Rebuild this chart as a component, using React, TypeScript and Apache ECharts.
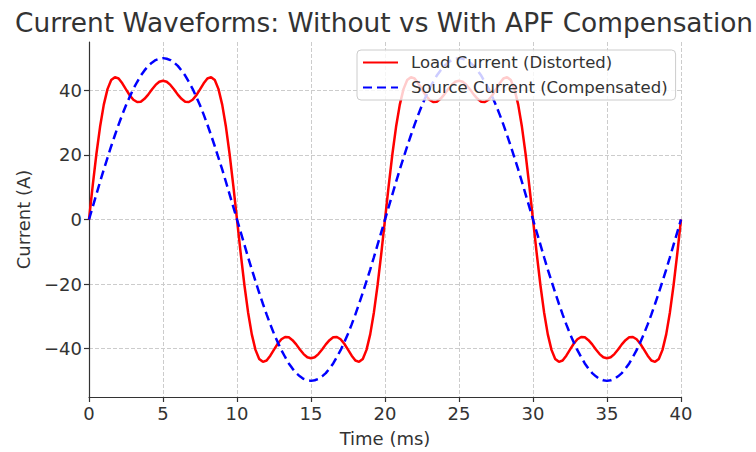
import React, { useEffect, useRef } from "react";
import * as echarts from "echarts";

const titleText = "Current Waveforms: Without vs With APF Compensation";
const xAxisName = "Time (ms)";
const yAxisName = "Current (A)";
const seriesNames = ["Load Current (Distorted)", "Source Current (Compensated)"];
const yTickValues = [-40, -20, 0, 20, 40];

const timeMs = [
  0, 0.25, 0.5, 0.75, 1, 1.25, 1.5, 1.75, 2, 2.25, 2.5, 2.75, 3, 3.25, 3.5, 3.75, 4, 4.25, 4.5, 4.75,
  5, 5.25, 5.5, 5.75, 6, 6.25, 6.5, 6.75, 7, 7.25, 7.5, 7.75, 8, 8.25, 8.5, 8.75, 9, 9.25, 9.5, 9.75,
  10, 10.25, 10.5, 10.75, 11, 11.25, 11.5, 11.75, 12, 12.25, 12.5, 12.75, 13, 13.25, 13.5, 13.75, 14, 14.25, 14.5, 14.75,
  15, 15.25, 15.5, 15.75, 16, 16.25, 16.5, 16.75, 17, 17.25, 17.5, 17.75, 18, 18.25, 18.5, 18.75, 19, 19.25, 19.5, 19.75,
  20, 20.25, 20.5, 20.75, 21, 21.25, 21.5, 21.75, 22, 22.25, 22.5, 22.75, 23, 23.25, 23.5, 23.75, 24, 24.25, 24.5, 24.75,
  25, 25.25, 25.5, 25.75, 26, 26.25, 26.5, 26.75, 27, 27.25, 27.5, 27.75, 28, 28.25, 28.5, 28.75, 29, 29.25, 29.5, 29.75,
  30, 30.25, 30.5, 30.75, 31, 31.25, 31.5, 31.75, 32, 32.25, 32.5, 32.75, 33, 33.25, 33.5, 33.75, 34, 34.25, 34.5, 34.75,
  35, 35.25, 35.5, 35.75, 36, 36.25, 36.5, 36.75, 37, 37.25, 37.5, 37.75, 38, 38.25, 38.5, 38.75, 39, 39.25, 39.5, 39.75,
  40,
];

const loadCurrent = [
  0, 10.5, 20.3, 28.8, 35.6, 40.4, 43.2, 44.1, 43.7, 42.2,
  40.3, 38.5, 37.1, 36.4, 36.5, 37.4, 38.7, 40.3, 41.7, 42.7,
  43.0, 42.7, 41.7, 40.3, 38.7, 37.4, 36.5, 36.4, 37.1, 38.5,
  40.3, 42.2, 43.7, 44.1, 43.2, 40.4, 35.6, 28.8, 20.3, 10.5,
  0, -10.5, -20.3, -28.8, -35.6, -40.4, -43.2, -44.1, -43.7, -42.2,
  -40.3, -38.5, -37.1, -36.4, -36.5, -37.4, -38.7, -40.3, -41.7, -42.7,
  -43.0, -42.7, -41.7, -40.3, -38.7, -37.4, -36.5, -36.4, -37.1, -38.5,
  -40.3, -42.2, -43.7, -44.1, -43.2, -40.4, -35.6, -28.8, -20.3, -10.5,
  0, 10.5, 20.3, 28.8, 35.6, 40.4, 43.2, 44.1, 43.7, 42.2,
  40.3, 38.5, 37.1, 36.4, 36.5, 37.4, 38.7, 40.3, 41.7, 42.7,
  43.0, 42.7, 41.7, 40.3, 38.7, 37.4, 36.5, 36.4, 37.1, 38.5,
  40.3, 42.2, 43.7, 44.1, 43.2, 40.4, 35.6, 28.8, 20.3, 10.5,
  0, -10.5, -20.3, -28.8, -35.6, -40.4, -43.2, -44.1, -43.7, -42.2,
  -40.3, -38.5, -37.1, -36.4, -36.5, -37.4, -38.7, -40.3, -41.7, -42.7,
  -43.0, -42.7, -41.7, -40.3, -38.7, -37.4, -36.5, -36.4, -37.1, -38.5,
  -40.3, -42.2, -43.7, -44.1, -43.2, -40.4, -35.6, -28.8, -20.3, -10.5,
  0,
];

const sourceCurrent = [
  0, 3.9, 7.8, 11.7, 15.5, 19.1, 22.7, 26.1, 29.4, 32.5,
  35.4, 38.0, 40.5, 42.6, 44.6, 46.2, 47.6, 48.6, 49.4, 49.8,
  50.0, 49.8, 49.4, 48.6, 47.6, 46.2, 44.6, 42.6, 40.5, 38.0,
  35.4, 32.5, 29.4, 26.1, 22.7, 19.1, 15.5, 11.7, 7.8, 3.9,
  0, -3.9, -7.8, -11.7, -15.5, -19.1, -22.7, -26.1, -29.4, -32.5,
  -35.4, -38.0, -40.5, -42.6, -44.6, -46.2, -47.6, -48.6, -49.4, -49.8,
  -50.0, -49.8, -49.4, -48.6, -47.6, -46.2, -44.6, -42.6, -40.5, -38.0,
  -35.4, -32.5, -29.4, -26.1, -22.7, -19.1, -15.5, -11.7, -7.8, -3.9,
  0, 3.9, 7.8, 11.7, 15.5, 19.1, 22.7, 26.1, 29.4, 32.5,
  35.4, 38.0, 40.5, 42.6, 44.6, 46.2, 47.6, 48.6, 49.4, 49.8,
  50.0, 49.8, 49.4, 48.6, 47.6, 46.2, 44.6, 42.6, 40.5, 38.0,
  35.4, 32.5, 29.4, 26.1, 22.7, 19.1, 15.5, 11.7, 7.8, 3.9,
  0, -3.9, -7.8, -11.7, -15.5, -19.1, -22.7, -26.1, -29.4, -32.5,
  -35.4, -38.0, -40.5, -42.6, -44.6, -46.2, -47.6, -48.6, -49.4, -49.8,
  -50.0, -49.8, -49.4, -48.6, -47.6, -46.2, -44.6, -42.6, -40.5, -38.0,
  -35.4, -32.5, -29.4, -26.1, -22.7, -19.1, -15.5, -11.7, -7.8, -3.9,
  0,
];

const FONT = "DejaVu Sans";
const TEXT = "#333333";

export default function App() {
  const ref = useRef<HTMLDivElement>(null);
  useEffect(() => {
    if (!ref.current) return;
    const chart = echarts.init(ref.current, null, { renderer: "svg" });
    const fmt = (v: number) => (v < 0 ? "\u2212" + Math.abs(v) : String(v));
    chart.setOption({
      animation: false,
      backgroundColor: "#ffffff",
      textStyle: { fontFamily: FONT },
      title: {
        text: titleText,
        left: 10,
        top: 4,
        textStyle: { fontFamily: FONT, fontSize: 26.4, fontWeight: "normal", color: TEXT },
      },
      legend: {
        orient: "vertical",
        left: 357,
        top: 50,
        padding: [4, 8, 4, 5],
        itemGap: 8,
        itemWidth: 35,
        itemHeight: 18,
        itemStyle: { opacity: 0 },
        backgroundColor: "rgba(255,255,255,0.8)",
        borderColor: "#cccccc",
        borderWidth: 1,
        borderRadius: 4,
        textStyle: { fontFamily: FONT, fontSize: 16.5, color: TEXT, padding: [0, 0, 0, 8] },
        data: seriesNames,
      },
      grid: { left: 89, right: 75, top: 42, bottom: 52 },
      xAxis: {
        type: "value",
        min: 0,
        max: 40,
        interval: 5,
        name: xAxisName,
        nameLocation: "middle",
        nameGap: 32,
        nameTextStyle: { fontFamily: FONT, fontSize: 18, color: TEXT },
        axisLine: { show: true, onZero: false, lineStyle: { color: TEXT, width: 1.2 } },
        axisTick: { show: true, inside: false, length: 5, lineStyle: { color: TEXT, width: 1.2 } },
        axisLabel: { fontFamily: FONT, fontSize: 18, color: TEXT, margin: 7 },
        splitLine: { show: true, lineStyle: { color: "#cccccc", width: 1, type: [4, 2] } },
      },
      yAxis: {
        type: "value",
        min: -55,
        max: 55,
        name: yAxisName,
        nameLocation: "middle",
        nameGap: 57,
        nameTextStyle: { fontFamily: FONT, fontSize: 18, color: TEXT },
        axisLine: { show: true, onZero: false, lineStyle: { color: TEXT, width: 1.2 } },
        axisTick: { show: true, inside: false, length: 5, customValues: yTickValues, lineStyle: { color: TEXT, width: 1.2 } },
        axisLabel: { fontFamily: FONT, fontSize: 18, color: TEXT, margin: 7, customValues: yTickValues, formatter: fmt },
        splitLine: { show: true, lineStyle: { color: "#cccccc", width: 1, type: [4, 2] } },
      },
      series: [
        {
          name: seriesNames[0],
          type: "line",
          symbol: "none",
          data: timeMs.map((t, i) => [t, loadCurrent[i]]),
          lineStyle: { color: "#ff0000", width: 2.5 },
          itemStyle: { color: "#ff0000" },
          z: 2,
        },
        {
          name: seriesNames[1],
          type: "line",
          symbol: "none",
          data: timeMs.map((t, i) => [t, sourceCurrent[i]]),
          lineStyle: { color: "#0000ff", width: 2.5, type: [9, 5] },
          itemStyle: { color: "#0000ff" },
          z: 3,
        },
      ],
    });
    return () => chart.dispose();
  }, []);
  return (
    <div
      ref={ref}
      style={{ position: "fixed", left: 0, top: 0, width: 756, height: 452 }}
    />
  );
}
